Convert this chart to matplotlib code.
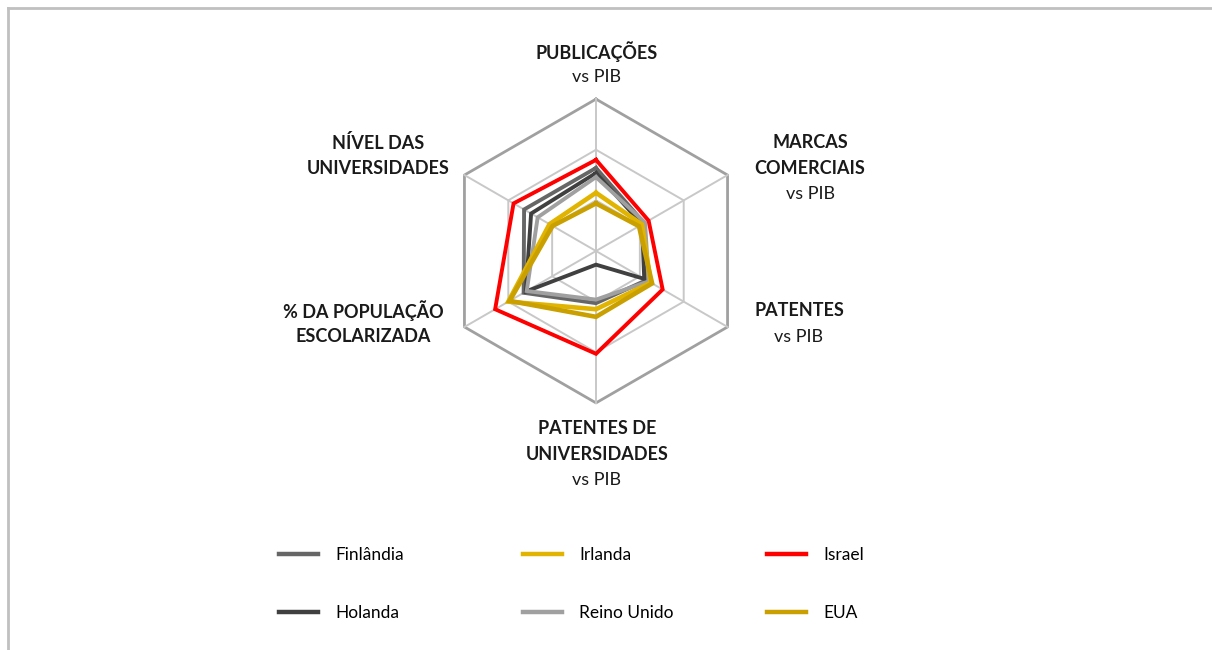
import numpy as np
import matplotlib
matplotlib.use("Agg")
import matplotlib.pyplot as plt
from matplotlib.lines import Line2D

plt.rcParams["font.family"] = ["Lato", "DejaVu Sans"]

# axis titles (bold part) and the plain sub-line under some of them
titles = ["PUBLICAÇÕES", "MARCAS\nCOMERCIAIS", "PATENTES",
          "PATENTES DE\nUNIVERSIDADES", "% DA POPULAÇÃO\nESCOLARIZADA",
          "NÍVEL DAS\nUNIVERSIDADES"]
subtitles = ["vs PIB", "vs PIB", "vs PIB", "vs PIB", "", ""]

# values per axis, same order as titles (top, then clockwise)
finlandia = [1.64, 1.10, 1.15, 1.03, 1.65, 1.64]
holanda = [1.54, 1.05, 1.10, 0.27, 1.60, 1.48]
reino_unido = [1.46, 1.12, 1.20, 0.96, 1.58, 1.33]
irlanda = [1.15, 1.05, 1.25, 1.15, 2.00, 1.06]
eua = [0.94, 0.98, 1.28, 1.30, 1.97, 0.99]
israel = [1.80, 1.20, 1.52, 2.03, 2.30, 1.88]

rings = [1, 2, 3]

series = [
    ("Finlândia", finlandia, "#666666"),
    ("Holanda", holanda, "#404040"),
    ("Reino Unido", reino_unido, "#a0a0a0"),
    ("Irlanda", irlanda, "#e0b400"),
    ("EUA", eua, "#c9a000"),
    ("Israel", israel, "#ff0000"),
]

W, H = 1212, 650
fig = plt.figure(figsize=(W / 100, H / 100), dpi=100)

# radar centre at (596, 251) px, 400 px square box
cx, cy, box = 596, 251, 400
ax = fig.add_axes([(cx - box / 2) / W, (H - cy - box / 2) / H, box / W, box / H])
lim = 3.95
ax.set_xlim(-lim, lim)
ax.set_ylim(-lim, lim)
ax.set_aspect("equal")
ax.axis("off")

n = len(titles)
theta = np.deg2rad(90 - 60 * np.arange(n))
closed = np.append(theta, theta[0])

# hexagonal grid
for r in rings:
    outer = r == rings[-1]
    ax.plot(r * np.cos(closed), r * np.sin(closed),
            color="#a0a0a0" if outer else "#c8c8c8",
            lw=2.0 if outer else 1.4, zorder=1)
for t in theta:
    ax.plot([0, rings[-1] * np.cos(t)], [0, rings[-1] * np.sin(t)],
            color="#c8c8c8", lw=1.4, zorder=1)

for name, vals, col in series:
    v = np.append(vals, vals[0])
    ax.plot(v * np.cos(closed), v * np.sin(closed), color=col,
            lw=2.8 if col not in ("#e0b400", "#c9a000") else 3.3,
            solid_joinstyle="miter", zorder=2)

# axis labels, pixel anchors of the first line centre
label_pos = [(597, 52), (810, 143), (799, 311), (597, 429), (363, 311), (378, 143)]
line_h = 25.5
for title, sub, (px, py) in zip(titles, subtitles, label_pos):
    lines = title.split("\n")
    for i, ln in enumerate(lines):
        fig.text(px / W, 1 - (py + i * line_h) / H, ln, ha="center", va="center",
                 fontsize=13, fontweight="bold", color="#1a1a1a")
    if sub:
        fig.text(px / W, 1 - (py + len(lines) * line_h) / H, sub, ha="center",
                 va="center", fontsize=13, color="#1a1a1a")

# legend: three columns placed at fixed positions
cols = [[series[0], series[1]], [series[3], series[2]], [series[5], series[4]]]
col_x = [277, 521, 765]
for xs, entries in zip(col_x, cols):
    handles = [Line2D([], [], color=c, lw=3.2) for _, _, c in entries]
    names = [nm for nm, _, _ in entries]
    fig.legend(handles, names, loc="upper left",
               bbox_to_anchor=(xs / W + 0.002, 1 - 547 / H), frameon=False,
               fontsize=12.5, handlelength=2.2, handletextpad=1.0,
               labelspacing=2.4, borderaxespad=0, borderpad=0)

# partial frame of the original chart area
fig.add_artist(Line2D([8 / W, 8 / W], [0, 1 - 8 / H], color="#c0c0c0", lw=2))
fig.add_artist(Line2D([8 / W, 1], [1 - 8 / H, 1 - 8 / H], color="#c0c0c0", lw=2))

fig.savefig("out.png", dpi=100)
